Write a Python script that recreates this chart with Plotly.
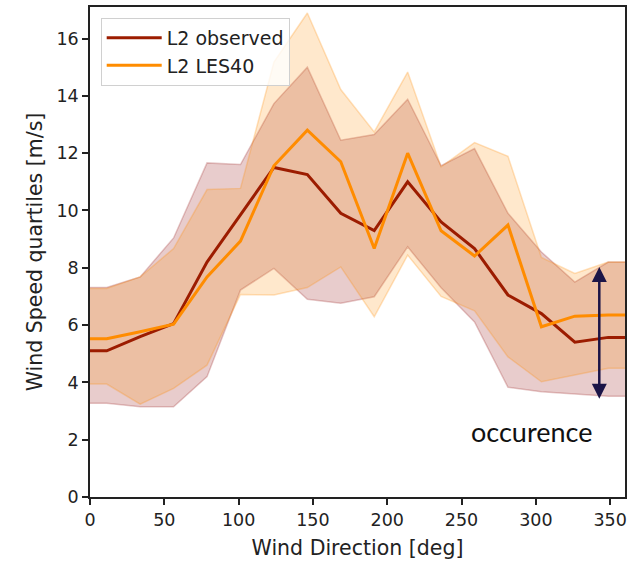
import plotly.graph_objects as go

# Wind direction bins (deg), with the first/last bin repeated at 0 and 360
direction = [0, 11.25, 33.75, 56.25, 78.75, 101.25, 123.75, 146.25, 168.75,
             191.25, 213.75, 236.25, 258.75, 281.25, 303.75, 326.25, 348.75, 360]

# L2 observed wind speed quartiles (m/s)
obs_q25 = [3.27, 3.27, 3.15, 3.15, 4.2, 7.22, 7.98, 6.9, 6.76,
           6.99, 8.73, 7.3, 6.11, 3.83, 3.67, 3.6, 3.52, 3.52]
obs_median = [5.1, 5.1, 5.6, 6.05, 8.2, 9.85, 11.5, 11.25, 9.9,
              9.3, 11.0, 9.6, 8.67, 7.05, 6.4, 5.4, 5.57, 5.57]
obs_q75 = [7.31, 7.31, 7.68, 9.04, 11.66, 11.6, 13.73, 15.0, 12.45,
           12.65, 13.88, 11.56, 12.16, 9.9, 8.55, 7.5, 8.2, 8.2]

# L2 LES40 wind speed quartiles (m/s)
les_q25 = [3.94, 3.94, 3.24, 3.79, 4.6, 7.07, 7.05, 7.31, 8.03,
           6.29, 8.44, 7.0, 6.5, 4.89, 4.02, 4.25, 4.49, 4.49]
les_median = [5.52, 5.52, 5.77, 6.03, 7.68, 8.93, 11.56, 12.8, 11.7,
              8.67, 12.0, 9.29, 8.41, 9.49, 5.94, 6.31, 6.35, 6.35]
les_q75 = [7.28, 7.28, 7.68, 8.67, 10.73, 10.77, 15.18, 16.89, 14.22,
           12.74, 14.83, 11.52, 12.37, 11.89, 8.36, 7.8, 8.2, 8.2]

# Occurrence arrow (deg, m/s)
arrow_x = 342.7
arrow_y = [3.38, 8.03]

OBS_COLOR = "#9c1c00"
LES_COLOR = "#ff8c00"
OBS_FILL = "rgba(139,0,0,0.2)"
OBS_EDGE = "rgba(139,0,0,0.22)"
LES_FILL = "rgba(255,140,0,0.2)"
LES_EDGE = "rgba(255,140,0,0.25)"

FONT = "DejaVu Sans, sans-serif"
NOTE_FONT = "Lato, sans-serif"
TEXT_COLOR = "#222222"

fig = go.Figure()


def add_band(lower, upper, fill, edge):
    fig.add_trace(go.Scatter(x=direction, y=lower, mode="lines",
                             line=dict(color=edge, width=1.5),
                             showlegend=False, hoverinfo="skip"))
    fig.add_trace(go.Scatter(x=direction, y=upper, mode="lines",
                             line=dict(color=edge, width=1.5),
                             fill="tonexty", fillcolor=fill,
                             showlegend=False, hoverinfo="skip"))


add_band(obs_q25, obs_q75, OBS_FILL, OBS_EDGE)
add_band(les_q25, les_q75, LES_FILL, LES_EDGE)

fig.add_trace(go.Scatter(x=direction, y=obs_median, mode="lines",
                         name="L2 observed",
                         line=dict(color=OBS_COLOR, width=3)))
fig.add_trace(go.Scatter(x=direction, y=les_median, mode="lines",
                         name="L2 LES40",
                         line=dict(color=LES_COLOR, width=3)))

# Double-headed arrow spanning the occurrence range
fig.add_annotation(x=arrow_x, y=arrow_y[1], ax=arrow_x, ay=arrow_y[0],
                   xref="x", yref="y", axref="x", ayref="y",
                   text="", showarrow=True,
                   arrowside="end+start", arrowhead=2, startarrowhead=2,
                   arrowsize=1.2, startarrowsize=1.2, arrowwidth=2.5,
                   arrowcolor="#1b1447")
fig.add_annotation(x=339, y=2.29, xref="x", yref="y", text="occurence",
                   showarrow=False, xanchor="right", yanchor="middle",
                   font=dict(family=NOTE_FONT, size=27, color="#111111"))

axis_common = dict(
    showline=True, linecolor=TEXT_COLOR, linewidth=1.5, mirror=True,
    ticks="outside", ticklen=6, tickwidth=1.5, tickcolor=TEXT_COLOR,
    showgrid=False, zeroline=False,
    tickfont=dict(family=FONT, size=17.5, color=TEXT_COLOR),
)

fig.update_layout(
    width=630, height=564,
    margin=dict(l=90, r=3, t=7, b=67),
    paper_bgcolor="white", plot_bgcolor="white",
    font=dict(family=FONT, size=17.5, color=TEXT_COLOR),
    xaxis=dict(range=[0, 360], tickvals=[0, 50, 100, 150, 200, 250, 300, 350],
               title=dict(text="Wind Direction [deg]", standoff=12,
                          font=dict(family=FONT, size=20.5, color=TEXT_COLOR)),
               **axis_common),
    yaxis=dict(range=[0, 17.1], tickvals=[0, 2, 4, 6, 8, 10, 12, 14, 16],
               title=dict(text="Wind Speed quartiles [m/s]", standoff=8,
                          font=dict(family=FONT, size=20.5, color=TEXT_COLOR)),
               **axis_common),
    legend=dict(x=0.02, y=0.978, xanchor="left", yanchor="top",
                traceorder="normal", itemwidth=55,
                bgcolor="rgba(255,255,255,0.8)", bordercolor="#d0d0d0",
                borderwidth=1, font=dict(family=FONT, size=19, color=TEXT_COLOR),
                tracegroupgap=4),
)

fig.write_html("out.html")
